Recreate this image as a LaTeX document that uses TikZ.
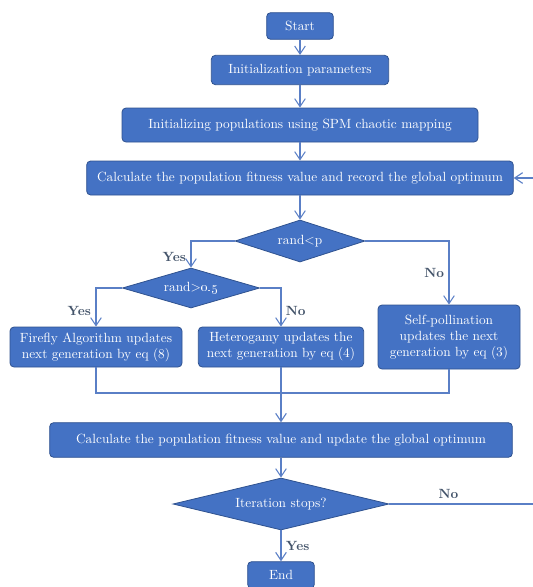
\documentclass[tikz,border=0pt]{standalone}
\usepackage{tikz}
\usetikzlibrary{shapes}
\usetikzlibrary{arrows.meta}
\definecolor{boxblue}{HTML}{4472C4}
\definecolor{boxedge}{HTML}{2F528F}
\definecolor{lineblue}{HTML}{5A7FC6}
\definecolor{labgray}{HTML}{44546A}

\begin{document}
\begin{tikzpicture}[x=0.75pt,y=-0.75pt,
  box/.style={draw=boxedge,fill=boxblue,rounded corners=3pt,text=white,align=center,inner sep=0pt,line width=0.6pt},
  dec/.style={draw=boxedge,fill=boxblue,shape=diamond,text=white,inner sep=0pt,line width=0.6pt},
  line/.style={draw=lineblue,line width=0.8pt},
  arr/.style={line,-{Straight Barb[length=6pt,width=8pt]}},
  lab/.style={text=labgray,font=\bfseries}]
\useasboundingbox (0,0) rectangle (533,587);
\draw (300,26) node[box,minimum width=50pt,minimum height=20pt](start){Start};
\draw (300,70) node[box,minimum width=133pt,minimum height=22pt](init){Initialization parameters};
\draw (300,125) node[box,minimum width=267pt,minimum height=25.5pt](pop){Initializing populations using SPM chaotic mapping};
\draw (300,178) node[box,minimum width=320pt,minimum height=25.5pt](fit){Calculate the population fitness value and record the global optimum};
\draw (300,241) node[dec,aspect=3.1,minimum width=97.5pt,minimum height=31.5pt](randp){rand<p};
\draw (191,288) node[dec,aspect=3.4,minimum width=103pt,minimum height=30pt](randh){rand>\oldstylenums{0.5}};
\draw (96,347) node[box,minimum width=129pt,minimum height=30pt](firefly){Firefly Algorithm updates\\next generation by eq (8)};
\draw (281,347) node[box,minimum width=124pt,minimum height=30pt](hetero){Heterogamy updates the\\next generation by eq (4)};
\draw (449,337) node[box,minimum width=106.5pt,minimum height=48pt](self){Self-pollination\\updates the next\\generation by eq (3)};
\draw (281,440) node[box,minimum width=347pt,minimum height=26pt](upd){Calculate the population fitness value and update the global optimum};
\draw (281,504) node[dec,aspect=4.15,minimum width=162pt,minimum height=39pt](iter){Iteration stops?};
\draw (281,575) node[box,minimum width=50pt,minimum height=20pt](stop){End};
\coordinate (join) at (281,393);
\coordinate (back) at (537,504);

\draw[arr] (start) -- (init);
\draw[arr] (init) -- (pop);
\draw[arr] (pop) -- (fit);
\draw[arr] (fit) -- (randp);
\draw[arr] (randp.west) -| (randh.north) node[lab,pos=0.8,left]{Yes};
\draw[arr] (randp.east) -| (self.north) node[lab,pos=0.75,left]{No};
\draw[arr] (randh.west) -| (firefly.north) node[lab,pos=0.8,left]{Yes};
\draw[arr] (randh.east) -| (hetero.north) node[lab,pos=0.8,right]{No};
\draw[line] (firefly.south) |- (join) -| (self.south);
\draw[arr] (hetero.south) -- (upd.north);
\draw[arr] (upd) -- (iter);
\draw[arr] (iter) -- (stop) node[lab,midway,right]{Yes};
\draw[arr] (iter.east) -- (back) node[lab,pos=0.4,above]{No} |- (fit.east);
\end{tikzpicture}
\end{document}
